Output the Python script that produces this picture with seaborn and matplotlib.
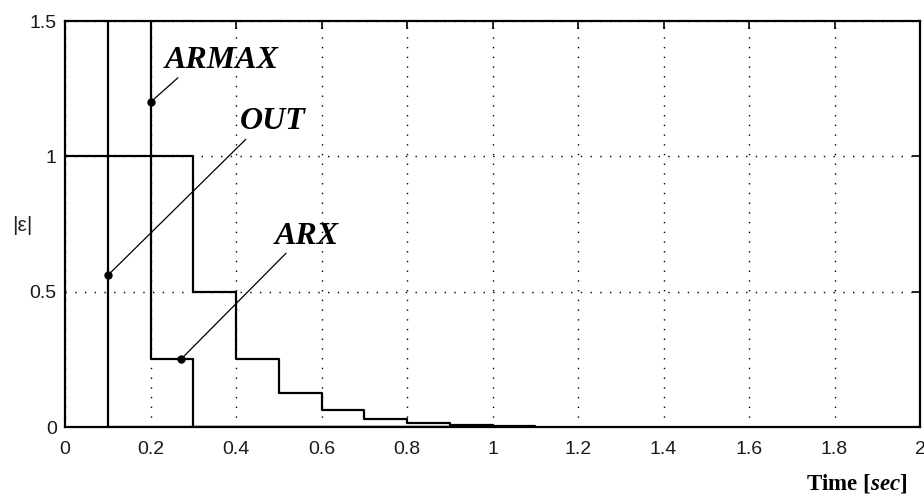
import matplotlib
matplotlib.use("Agg")
import matplotlib.pyplot as plt
import seaborn as sns
import pandas as pd

# ---- data ----
t = [0.0, 0.1, 0.2, 0.3, 0.4, 0.5, 0.6, 0.7, 0.8, 0.9, 1.0, 1.1]
decay = [1.0, 1.0, 1.0, 0.5, 0.25, 0.125, 0.0625, 0.03125, 0.015625, 0.0078125, 0.00390625, 0.00390625]
out = [2.0, 0.0, 0.0, 0.0, 0.0, 0.0, 0.0, 0.0, 0.0, 0.0, 0.0, 0.0]
armax = [2.0, 2.0, 0.25, 0.0, 0.0, 0.0, 0.0, 0.0, 0.0, 0.0, 0.0, 0.0]

labels = ["ARMAX", "OUT", "ARX"]
label_xy = [(0.234, 1.325), (0.41, 1.10), (0.49, 0.675)]
point_xy = [(0.2, 1.2), (0.1, 0.56), (0.271, 0.25)]
line_end = [(0.264, 1.29), (0.423, 1.063), (0.517, 0.642)]

xticks = [0, 0.2, 0.4, 0.6, 0.8, 1.0, 1.2, 1.4, 1.6, 1.8, 2.0]
xticklabels = ["0", "0.2", "0.4", "0.6", "0.8", "1", "1.2", "1.4", "1.6", "1.8", "2"]
yticks = [0, 0.5, 1.0, 1.5]
yticklabels = ["0", "0.5", "1", "1.5"]

sns.set_style("white")
plt.rcParams["font.family"] = ["Liberation Sans", "DejaVu Sans"]
plt.rcParams["text.color"] = "black"
plt.rcParams["mathtext.fontset"] = "custom"
plt.rcParams["mathtext.it"] = "Liberation Serif:italic:bold"
plt.rcParams["mathtext.rm"] = "Liberation Serif:bold"

fig = plt.figure(figsize=(9.24, 4.94), dpi=100)
ax = fig.add_axes([65 / 924, 67 / 494, 855 / 924, 406 / 494])

df = pd.DataFrame({"t": t, "decay": decay, "out": out, "armax": armax})
for col in ["decay", "out", "armax"]:
    sns.lineplot(data=df, x="t", y=col, ax=ax, drawstyle="steps-post",
                 color="black", lw=1.6, estimator=None, sort=False)

ax.set_xlim(0, 2)
ax.set_ylim(0, 1.5)
ax.set_xticks(xticks)
ax.set_xticklabels(xticklabels)
ax.set_yticks(yticks)
ax.set_yticklabels(yticklabels)
ax.set_xlabel("")
ax.set_ylabel("")

ax.grid(True, color="black", linestyle=(0, (1, 6)), lw=1.0)
for s in ax.spines.values():
    s.set_color("black")
    s.set_linewidth(1.6)
    s.set_visible(True)
ax.tick_params(axis="both", direction="in", length=6, width=1.2, color="black",
               top=True, right=True, labelsize=14, labelcolor="#1a1a1a")
ax.tick_params(axis="x", pad=10)
ax.tick_params(axis="y", pad=6)

for lab, (lx, ly), (px, py), (ex, ey) in zip(labels, label_xy, point_xy, line_end):
    ax.plot([px, ex], [py, ey], color="black", lw=0.9)
    ax.plot([px], [py], marker="o", ms=5, color="black")
    ax.text(lx, ly, lab, fontsize=23, fontweight="bold", fontstyle="italic",
            family="Liberation Serif", ha="left", va="baseline", color="black")

fig.text(22 / 924, 1 - 225 / 494, "|ε|", fontsize=15, ha="center", va="center",
         family=["Liberation Sans", "DejaVu Sans"], color="#222222")
fig.text(907 / 924, 1 - 489 / 494, r"Time [$\mathit{sec}$]", fontsize=16.5,
         fontweight="bold", family="Liberation Serif", ha="right", va="baseline",
         color="black")

fig.savefig("out.png", dpi=100)
